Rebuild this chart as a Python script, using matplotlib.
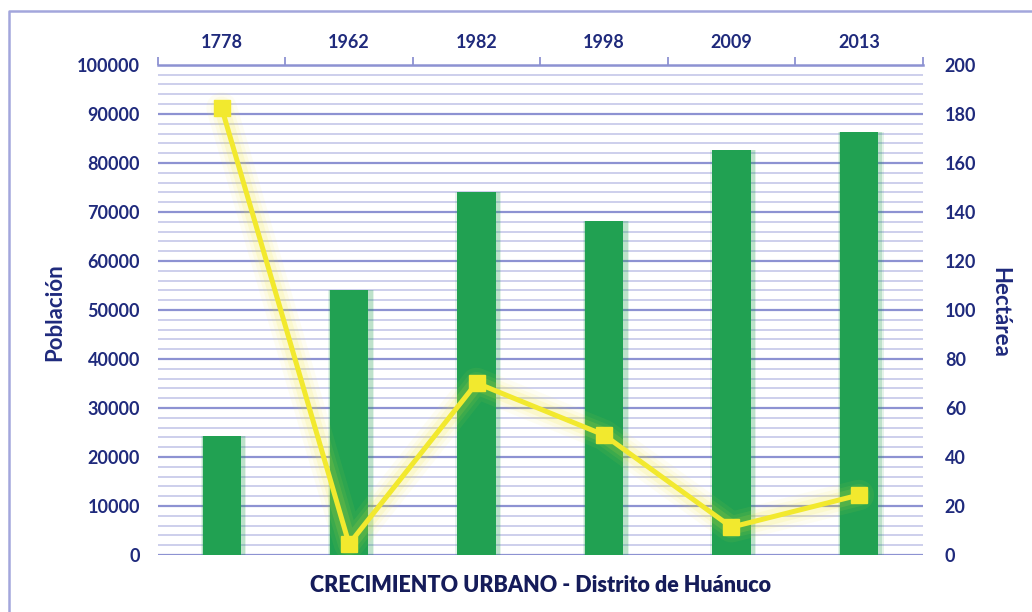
import matplotlib.pyplot as plt
import numpy as np
from matplotlib.ticker import MultipleLocator

# data
years = ["1778", "1962", "1982", "1998", "2009", "2013"]
poblacion = [24300, 54100, 74100, 68200, 82700, 86300]
hectarea = [182.5, 4.5, 70.2, 49.0, 11.4, 24.5]

navy = "#1f2a7c"
green = "#21a152"
yellow = "#f2e92e"
major_c = "#8d92d2"
minor_c = "#c9cbeb"

plt.rcParams['font.family'] = ['Lato', 'DejaVu Sans']

fig = plt.figure(figsize=(10.32, 6.12), dpi=100)
ax = fig.add_axes([0.153, 0.093, 0.741, 0.801])
x = np.arange(len(years))

# grid
ax.set_ylim(0, 100000)
ax.yaxis.set_major_locator(MultipleLocator(10000))
ax.yaxis.set_minor_locator(MultipleLocator(2000))
ax.grid(axis="y", which="major", color=major_c, lw=1.6, zorder=0)
ax.grid(axis="y", which="minor", color=minor_c, lw=1.3, zorder=0)
ax.set_axisbelow(True)

# bars with soft edge
for k, a in [(0.06, 0.12), (0.04, 0.2)]:
    ax.bar(x + 0.015, poblacion, width=0.3 + k, color=green, alpha=a, lw=0, zorder=2)
ax.bar(x, poblacion, width=0.3, color=green, lw=0, zorder=3)

ax.set_xlim(-0.5, len(years) - 0.5)
ax.xaxis.tick_top()
ax.set_xticks(x)
ax.set_xticklabels(years)
ax.set_xticks(np.arange(-0.5, len(years)), minor=True)
ax.tick_params(axis="x", which="major", length=0, pad=10, labelsize=13,
               labelcolor=navy)
ax.tick_params(axis="x", which="minor", length=6, width=1.3, color=major_c,
               top=True, bottom=False)
ax.tick_params(axis="y", length=0, labelsize=13, labelcolor=navy, pad=13)
ax.tick_params(axis="y", which="minor", length=0)
for lab in ax.get_xticklabels() + ax.get_yticklabels():
    lab.set_fontweight("bold")

for s in ["left", "right", "bottom"]:
    ax.spines[s].set_visible(False)
ax.spines["top"].set_color(major_c)
ax.spines["top"].set_linewidth(1.8)

# right axis with line
ax2 = ax.twinx()
ax2.set_ylim(0, 200)
ax2.yaxis.set_major_locator(MultipleLocator(20))
ax2.tick_params(axis="y", length=0, labelsize=13, labelcolor=navy, pad=16)
for lab in ax2.get_yticklabels():
    lab.set_fontweight("bold")
for s in ax2.spines.values():
    s.set_visible(False)

for w, a in [(22, 0.06), (16, 0.08), (11, 0.12)]:
    ax2.plot(x, hectarea, color=yellow, lw=w, alpha=a, solid_capstyle="round",
             solid_joinstyle="round", zorder=4)
ax2.plot(x, hectarea, color=yellow, lw=3.6, marker="s", ms=11, zorder=5)

fig.text(0.053, 0.49, "Población", rotation=90, ha="center", va="center",
         fontsize=16, fontweight="bold", color=navy)
fig.text(0.969, 0.49, "Hectárea", rotation=-90, ha="center", va="center",
         fontsize=16, fontweight="bold", color=navy)
fig.text(0.524, 0.043, "CRECIMIENTO URBANO - Distrito de Huánuco", ha="center",
         va="center", fontsize=15.5, fontweight="heavy", color="#151c5a")

# outer frame
fig.add_artist(plt.Line2D([0.009, 0.009, 1.0], [0.0, 0.982, 0.982],
                          color="#a3a6dc", lw=1.8, transform=fig.transFigure))

fig.savefig("out.png", dpi=100)
